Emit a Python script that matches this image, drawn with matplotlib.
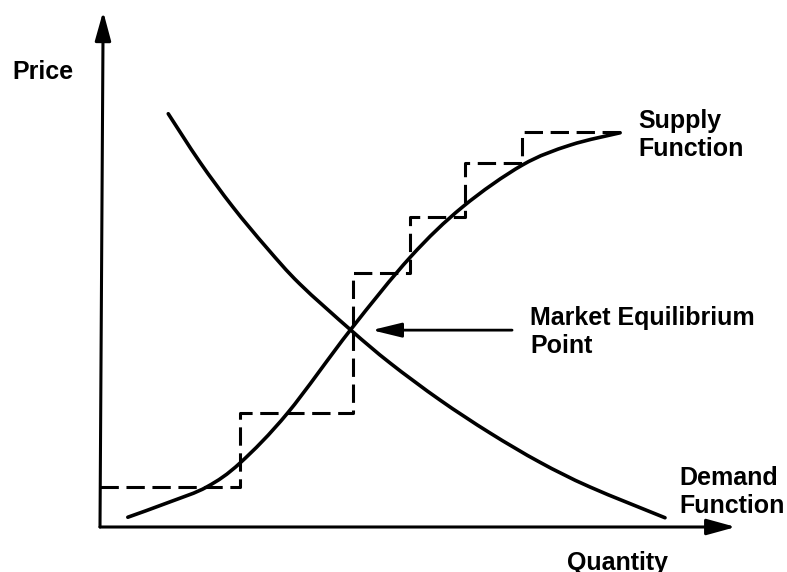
import matplotlib
matplotlib.use('Agg')
from matplotlib import pyplot as plt
from matplotlib.path import Path
from matplotlib.patches import PathPatch

# supply / demand curves, quantity and price in percent of the axis length
supply_q = [4.4, 11.1, 16.9, 22.2, 29.7, 39.6, 49.1, 57.4, 66.8, 74.4, 82.3]
supply_p = [1.9, 4.9, 7.8, 12.5, 22.2, 38.3, 52.5, 62.3, 70.4, 74.3, 76.7]

demand_q = [10.8, 15.8, 21.0, 26.4, 31.6, 39.7, 45.9, 53.8, 61.7, 69.6, 77.5, 89.4]
demand_p = [80.4, 71.0, 62.3, 54.3, 47.3, 38.3, 31.9, 24.7, 18.3, 12.6, 7.8, 1.8]

# discrete supply schedule (step edges and levels)
step_q = [0.0, 22.2, 40.0, 49.1, 57.8, 66.8, 82.3]
step_p = [7.8, 22.2, 49.4, 60.3, 70.8, 76.8]

equilibrium = (39.7, 38.3)

W, H = 787, 572
fig = plt.figure(figsize=(W / 100, H / 100), dpi=100)
ax = fig.add_axes([0, 0, 1, 1])
# origin of the diagram sits at pixel (100, 527), 100 units = 632 px wide, 514 px high
sx, sy = 6.32, 5.14
ax.set_xlim(-100 / sx, (W - 100) / sx)
ax.set_ylim(-(H - 527) / sy, 527 / sy)
ax.axis('off')


def smooth_path(xs, ys):
    # catmull-rom through the points, written as cubic bezier segments
    pts = list(zip(xs, ys))
    verts = [pts[0]]
    codes = [Path.MOVETO]
    for i in range(len(pts) - 1):
        p0 = pts[i - 1] if i > 0 else pts[i]
        p1, p2 = pts[i], pts[i + 1]
        p3 = pts[i + 2] if i + 2 < len(pts) else pts[i + 1]
        c1 = (p1[0] + (p2[0] - p0[0]) / 6, p1[1] + (p2[1] - p0[1]) / 6)
        c2 = (p2[0] - (p3[0] - p1[0]) / 6, p2[1] - (p3[1] - p1[1]) / 6)
        verts += [c1, c2, p2]
        codes += [Path.CURVE4] * 3
    return Path(verts, codes)


lw_curve = 2.6
for q, p in [(supply_q, supply_p), (demand_q, demand_p)]:
    ax.add_patch(PathPatch(smooth_path(q, p), facecolor='none', edgecolor='black',
                           lw=lw_curve, capstyle='round'))

# stairs: horizontal at each level, vertical jump at next edge
xs, ys = [], []
for i, lvl in enumerate(step_p):
    xs += [step_q[i], step_q[i + 1]]
    ys += [lvl, lvl]
ax.plot(xs, ys, color='black', lw=2.2, linestyle=(0, (6, 2.5)))

# axes with arrow heads
arrow = dict(arrowstyle='-|>,head_length=0.8,head_width=0.22', color='black',
             lw=2.2, mutation_scale=22, shrinkA=0, shrinkB=0)
ax.annotate('', xy=(100.6, 0), xytext=(0, 0), arrowprops=arrow)
ax.annotate('', xy=(0.5, 100.3), xytext=(0, 0), arrowprops=arrow)

eq_arrow = dict(arrowstyle='-|>,head_length=0.9,head_width=0.22', color='black',
                lw=2.0, mutation_scale=20, shrinkA=0, shrinkB=0)
ax.annotate('', xy=(43.0, equilibrium[1]), xytext=(65.2, equilibrium[1]),
            arrowprops=eq_arrow)

font = dict(family=['Liberation Sans', 'DejaVu Sans'], fontweight='bold',
            fontsize=18, color='black', linespacing=1.2)


def label(px, py, txt):
    # px: left edge, py: baseline of the last line, both in pixels
    fig.text(px / W, 1 - py / H, txt, ha='left', va='baseline', **font)


label(12, 79, 'Price')
label(567, 570, 'Quantity')
label(638, 156, 'Supply\nFunction')
label(679, 513, 'Demand\nFunction')
label(530, 353, 'Market Equilibrium\nPoint')

fig.savefig('out.png', dpi=100)
